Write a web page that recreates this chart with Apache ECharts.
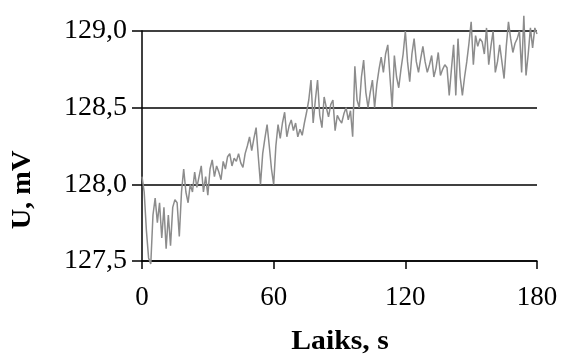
<!DOCTYPE html>
<html>
<head>
<meta charset="utf-8">
<script src="https://cdn.jsdelivr.net/npm/echarts@6/dist/echarts.min.js"></script>
<style>html,body{margin:0;padding:0;background:#fff}#c{width:563px;height:357px}</style>
</head>
<body>
<div id="c"></div>
<script>
var times = [];
for (var i = 0; i <= 180; i++) times.push(i);
var voltage = [
128.05,127.95,127.70,127.52,127.48,127.80,127.91,127.75,127.88,127.65,
127.85,127.58,127.80,127.60,127.85,127.90,127.88,127.66,127.95,128.10,
127.95,127.88,128.00,127.95,128.08,127.98,128.05,128.12,127.95,128.05,
127.93,128.10,128.16,128.05,128.12,128.08,128.03,128.15,128.10,128.18,
128.20,128.12,128.17,128.15,128.20,128.14,128.11,128.20,128.25,128.31,
128.22,128.30,128.37,128.18,128.00,128.20,128.30,128.39,128.25,128.10,
128.00,128.25,128.39,128.30,128.40,128.47,128.31,128.38,128.42,128.35,
128.40,128.31,128.36,128.32,128.40,128.47,128.55,128.68,128.40,128.55,
128.68,128.45,128.37,128.57,128.50,128.44,128.52,128.55,128.35,128.45,
128.42,128.40,128.46,128.50,128.42,128.48,128.31,128.77,128.55,128.50,
128.70,128.81,128.60,128.50,128.60,128.68,128.50,128.65,128.75,128.83,
128.73,128.85,128.91,128.70,128.50,128.84,128.70,128.63,128.75,128.85,
129.00,128.80,128.67,128.85,128.95,128.80,128.73,128.82,128.90,128.80,
128.73,128.78,128.84,128.70,128.76,128.86,128.71,128.75,128.78,128.76,
128.58,128.75,128.91,128.58,128.95,128.70,128.58,128.70,128.80,128.92,
129.06,128.78,128.97,128.90,128.95,128.93,128.85,129.02,128.78,128.90,
129.00,128.73,128.80,128.91,128.80,128.69,128.90,129.06,128.95,128.86,
128.92,128.95,129.00,128.73,129.10,128.71,128.85,129.02,128.89,129.02,
128.98
];
var xTicks = [0, 60, 120, 180];
var yTicks = [127.5, 128.0, 128.5, 129.0];
var xTitle = 'Laiks, s';
var yTitle = 'U, mV';

var FONT = '"Liberation Serif", "Times New Roman", serif';
var data = times.map(function (t, i) { return [t, voltage[i]]; });

var chart = echarts.init(document.getElementById('c'), null, {renderer: 'canvas'});
chart.setOption({
  animation: false,
  backgroundColor: '#fff',
  grid: {left: 142, right: 26, top: 31, bottom: 96, containLabel: false},
  xAxis: {
    type: 'value', min: xTicks[0], max: xTicks[xTicks.length - 1], interval: 60,
    axisLine: {show: true, onZero: false, lineStyle: {color: '#000', width: 1.5}},
    axisTick: {show: true, inside: false, length: 8, lineStyle: {color: '#000', width: 1.5}},
    axisLabel: {color: '#000', fontFamily: FONT, fontSize: 27, margin: 23},
    splitLine: {show: false}
  },
  yAxis: {
    type: 'value', min: yTicks[0], max: yTicks[yTicks.length - 1], interval: 0.5,
    axisLine: {show: true, lineStyle: {color: '#000', width: 1.5}},
    axisTick: {show: true, inside: false, length: 10, lineStyle: {color: '#000', width: 1.5}},
    axisLabel: {color: '#000', fontFamily: FONT, fontSize: 28, margin: 15,
      formatter: function (v) { return v.toFixed(1).replace('.', ','); }},
    splitLine: {show: true, lineStyle: {color: '#000', width: 1.5}}
  },
  series: [{
    type: 'line', data: data, showSymbol: false, symbol: 'none', clip: false,
    lineStyle: {color: '#8c8c8c', width: 1.5}, z: 3
  }],
  graphic: [
    {type: 'text', x: 340, y: 342, scaleX: 1.1,
      style: {text: xTitle, fill: '#000', font: 'bold 27px ' + FONT, align: 'center', verticalAlign: 'middle'}},
    {type: 'text', rotation: Math.PI / 2, x: 23, y: 190, scaleX: 1.05,
      style: {text: yTitle, fill: '#000', font: 'bold 27px ' + FONT, align: 'center', verticalAlign: 'middle'}}
  ]
});
</script>
</body>
</html>
